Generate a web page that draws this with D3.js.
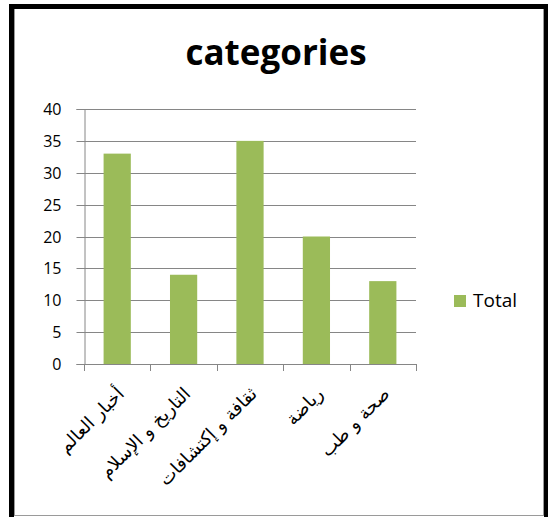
<!DOCTYPE html>
<html>
<head>
<meta charset="utf-8">
<script src="https://cdn.jsdelivr.net/npm/d3@7/dist/d3.min.js"></script>
<style>
  body { margin: 0; background: #fff; }
  svg { display: block; }
</style>
</head>
<body>
<script>
const chartTitle = 'categories';
const seriesName = 'Total';
const categories = ['أخبار العالم', 'التاريخ و الإسلام', 'ثقافة و إكتشافات', 'رياضة', 'صحة و طب'];
const totals = [33, 14, 35, 20, 13];
const yTicks = [0, 5, 10, 15, 20, 25, 30, 35, 40];

const W = 548, H = 517;
const barColor = '#9bbb59';
const gridColor = '#868686';

let svg = d3.select('body')
  .append('svg')
  .attr('width', W)
  .attr('height', H);

// cadre noir + bordure grise de la zone du graphique
svg.append('rect')
  .attr('x', 14.5).attr('y', 8.5)
  .attr('width', 529).attr('height', 507)
  .attr('fill', '#fff')
  .attr('stroke', '#9a9a9a')
  .attr('stroke-width', 1);

svg.append('rect')
  .attr('x', 11.5).attr('y', 6.5)
  .attr('width', 535).attr('height', 530)
  .attr('fill', 'none')
  .attr('stroke', '#000')
  .attr('stroke-width', 5);

let x = d3.scaleBand()
  .domain(categories)
  .range([84, 416])
  .paddingInner(0.59)
  .paddingOuter(0.295);

let y = d3.scaleLinear()
  .domain([0, 40])
  .range([364, 109]);

// titre
svg.append('text')
  .attr('x', 276)
  .attr('y', 65)
  .attr('text-anchor', 'middle')
  .style('font-family', '"Open Sans", sans-serif')
  .style('font-weight', 'bold')
  .style('font-size', '35px')
  .style('fill', '#000')
  .text(chartTitle);

// grille
svg.append('g')
  .selectAll('line')
  .data(yTicks.filter(d => d > 0))
  .enter()
  .append('line')
  .attr('x1', 84).attr('x2', 416)
  .attr('y1', d => Math.round(y(d)) + 0.5)
  .attr('y2', d => Math.round(y(d)) + 0.5)
  .attr('stroke', gridColor)
  .attr('stroke-width', 1);

// axe Y
let yAxis = d3.axisLeft(y).tickValues(yTicks).tickSize(8).tickPadding(15);
let gy = svg.append('g')
  .attr('transform', 'translate(84.5,0)')
  .call(yAxis);
gy.select('.domain').attr('stroke', gridColor);
gy.selectAll('.tick line').attr('stroke', gridColor);
gy.selectAll('.tick text')
  .style('font-family', '"Open Sans", sans-serif')
  .style('font-size', '16px')
  .style('fill', '#000');
gy.selectAll('.tick').attr('transform', d => 'translate(0,' + (Math.round(y(d)) + 0.5) + ')');

// barres
svg.append('g')
  .selectAll('rect')
  .data(totals)
  .enter()
  .append('rect')
  .attr('x', (d, i) => x(categories[i]))
  .attr('y', d => y(d))
  .attr('width', x.bandwidth())
  .attr('height', d => y(0) - y(d))
  .attr('fill', barColor);

// axe X
let x0 = x.range()[0];
let step = x.step();
svg.append('line')
  .attr('x1', 84).attr('x2', 416)
  .attr('y1', 364.5).attr('y2', 364.5)
  .attr('stroke', gridColor);

svg.append('g')
  .selectAll('line')
  .data(d3.range(categories.length + 1))
  .enter()
  .append('line')
  .attr('x1', i => Math.round(x0 + i * step) + 0.5)
  .attr('x2', i => Math.round(x0 + i * step) + 0.5)
  .attr('y1', 364)
  .attr('y2', 371)
  .attr('stroke', gridColor);

svg.append('g')
  .selectAll('text')
  .data(categories)
  .enter()
  .append('text')
  .attr('transform', d => 'translate(' + (x(d) + x.bandwidth() / 2 + 8) + ',395) rotate(-45)')
  .attr('text-anchor', 'end')
  .style('font-family', '"DejaVu Sans", sans-serif')
  .style('font-size', '18px')
  .style('fill', '#000')
  .text(d => d);

// légende
let legend = svg.append('g').attr('transform', 'translate(454,295)');
legend.append('rect')
  .attr('width', 12).attr('height', 12)
  .attr('fill', barColor);
legend.append('text')
  .attr('x', 19)
  .attr('y', 12)
  .style('font-family', '"Open Sans", sans-serif')
  .style('font-size', '19px')
  .style('fill', '#000')
  .text(seriesName);
</script>
</body>
</html>
